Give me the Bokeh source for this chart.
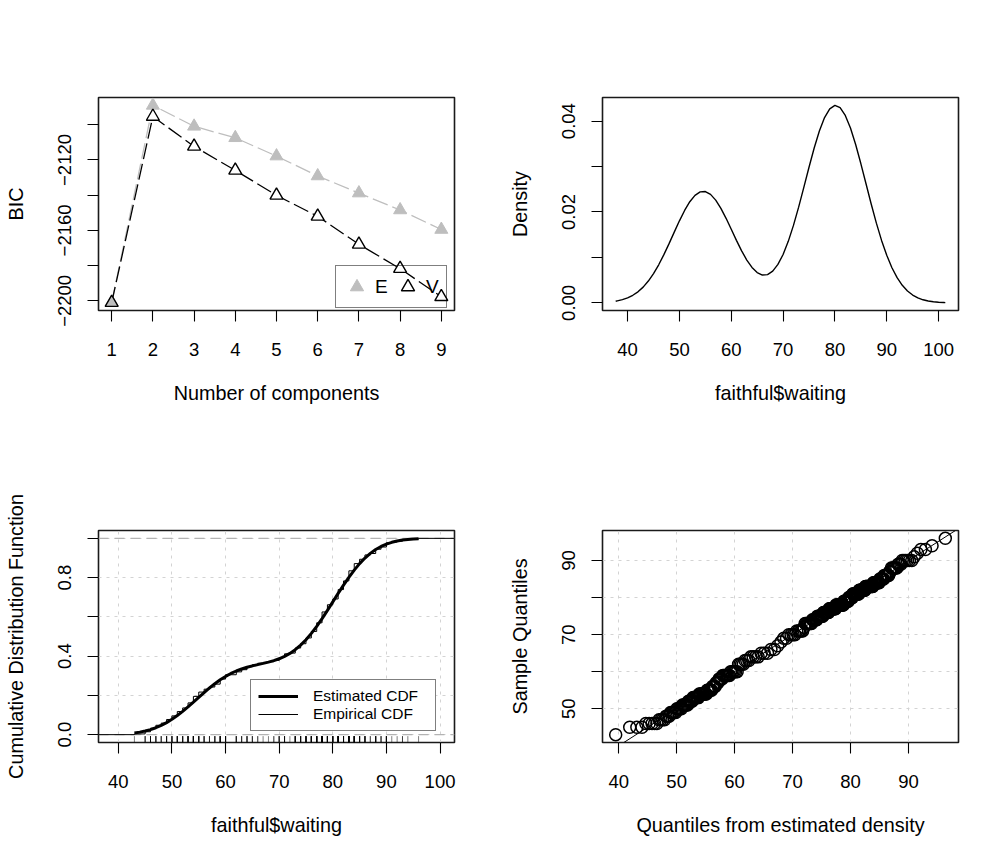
import numpy as np
from bokeh.plotting import figure
from bokeh.models import (FixedTicker, PrintfTickFormatter, Legend, LegendItem,
                          Slope, Span)
from bokeh.layouts import column, row
from bokeh.embed import file_html
from bokeh.resources import INLINE

# ---------------- data ----------------
components = [1, 2, 3, 4, 5, 6, 7, 8, 9]
bic_E = [-2201.0, -2089.0, -2100.9, -2107.4, -2117.8, -2129.1, -2138.8, -2148.4, -2159.5]
bic_V = [-2201.0, -2095.3, -2112.3, -2125.9, -2140.1, -2152.0, -2167.9, -2181.7, -2197.7]
bic_ticks = [-2200, -2160, -2120]
bic_minor_ticks = [-2180, -2140, -2100]

# estimated density of faithful$waiting
dens_x = [37.7] + list(range(38, 102)) + [101.3]
dens_y = [0.00035,
          0.00045, 0.00072, 0.00111, 0.00167, 0.00244, 0.00347, 0.00480, 0.00644,
          0.00838, 0.01061, 0.01304, 0.01557, 0.01806, 0.02034, 0.02226, 0.02366,
          0.02443, 0.02450, 0.02388, 0.02261, 0.02080, 0.01861, 0.01620, 0.01376,
          0.01145, 0.00943, 0.00780, 0.00668, 0.00613, 0.00622, 0.00699, 0.00846,
          0.01065, 0.01354, 0.01705, 0.02107, 0.02541, 0.02985, 0.03408, 0.03782,
          0.04078, 0.04271, 0.04346, 0.04296, 0.04125, 0.03847, 0.03485, 0.03066,
          0.02621, 0.02176, 0.01755, 0.01375, 0.01046, 0.00773, 0.00555, 0.00387,
          0.00262, 0.00173, 0.00110, 0.00068, 0.00041, 0.00024, 0.00014, 0.00008,
          0.00006]

# estimated CDF
cdf_x = list(range(38, 98))
cdf_y = [0.00084, 0.00141, 0.00231, 0.00368, 0.00572, 0.00865, 0.01277, 0.01835,
         0.02574, 0.03519, 0.04704, 0.06130, 0.07812, 0.09736, 0.11870, 0.14169,
         0.16581, 0.19032, 0.21454, 0.23783, 0.25957, 0.27930, 0.29672, 0.31169,
         0.32429, 0.33469, 0.34326, 0.35045, 0.35679, 0.36293, 0.36946, 0.37712,
         0.38663, 0.39861, 0.41391, 0.43290, 0.45617, 0.48379, 0.51583, 0.55174,
         0.59110, 0.63296, 0.67615, 0.71948, 0.76165, 0.80159, 0.83833, 0.87111,
         0.89955, 0.92351, 0.94313, 0.95872, 0.97080, 0.97987, 0.98645, 0.99112,
         0.99431, 0.99649, 0.99783, 0.99873]

# faithful$waiting
waiting = [79, 54, 74, 62, 85, 55, 88, 85, 51, 85, 54, 84, 78, 47, 83, 52, 62, 84, 52, 79,
           51, 47, 78, 69, 74, 83, 55, 76, 78, 79, 73, 77, 66, 80, 74, 52, 48, 80, 59, 90,
           80, 58, 84, 58, 73, 83, 64, 53, 82, 59, 75, 90, 54, 80, 54, 83, 71, 64, 77, 81,
           59, 84, 48, 82, 60, 92, 78, 78, 65, 73, 82, 56, 79, 71, 62, 76, 60, 78, 76, 83,
           75, 82, 70, 65, 73, 88, 76, 80, 48, 86, 60, 90, 50, 78, 63, 72, 84, 75, 51, 82,
           62, 88, 49, 83, 81, 47, 84, 52, 86, 81, 75, 59, 89, 79, 59, 81, 50, 85, 59, 87,
           53, 69, 77, 56, 88, 81, 45, 82, 55, 90, 45, 83, 56, 89, 46, 82, 51, 86, 53, 79,
           81, 60, 82, 77, 76, 59, 80, 49, 96, 53, 77, 77, 65, 81, 71, 70, 81, 93, 53, 89,
           45, 86, 58, 78, 66, 76, 63, 88, 52, 93, 49, 57, 77, 68, 81, 81, 73, 50, 85, 74,
           55, 77, 83, 83, 51, 78, 84, 46, 83, 55, 81, 57, 76, 84, 77, 81, 87, 77, 51, 78,
           60, 82, 91, 53, 78, 46, 77, 84, 49, 83, 71, 80, 49, 75, 64, 76, 53, 94, 55, 76,
           50, 82, 54, 75, 78, 79, 78, 78, 70, 79, 70, 54, 86, 50, 90, 54, 54, 77, 79, 64,
           75, 47, 86, 63, 85, 82, 57, 82, 67, 74, 54, 83, 73, 73, 88, 80, 71, 83, 56, 79,
           78, 84, 58, 83, 43, 60, 75, 81, 46, 90, 46, 74]

# ---------------- style ----------------
FONT = "Liberation Sans"
GRAY = "#bebebe"
GRID = "#d3d3d3"


def rrange(lo, hi):
    d = (hi - lo) * 0.04
    return (lo - d, hi + d)


def make_fig(xr, yr, lb, rb, tb, bb, fh, xlab, ylab):
    p = figure(frame_width=356, frame_height=fh, x_range=xr, y_range=yr,
               min_border_left=lb, min_border_right=rb, min_border_top=tb,
               min_border_bottom=bb, output_backend="svg", toolbar_location=None,
               background_fill_color="white", border_fill_color="white",
               outline_line_color="#1a1a1a", outline_line_width=1.6)
    p.xgrid.visible = False
    p.ygrid.visible = False
    for ax in (p.xaxis[0], p.yaxis[0]):
        ax.axis_line_color = None
        ax.major_tick_out = 11
        ax.major_tick_in = 0
        ax.minor_tick_out = 11
        ax.minor_tick_in = 0
        ax.major_tick_line_color = "black"
        ax.minor_tick_line_color = "black"
        ax.major_tick_line_width = 1.1
        ax.minor_tick_line_width = 1.1
        ax.major_label_text_font = FONT
        ax.major_label_text_font_size = "18.5px"
        ax.major_label_text_color = "black"
        ax.axis_label_text_font = FONT
        ax.axis_label_text_font_size = "19.8px"
        ax.axis_label_text_font_style = "normal"
        ax.axis_label_text_color = "black"
    p.xaxis.major_label_standoff = 21
    p.xaxis.axis_label_standoff = 23
    p.yaxis.major_label_standoff = 16
    p.yaxis.axis_label_standoff = 29
    p.yaxis.major_label_orientation = "vertical"
    p.xaxis.axis_label = xlab
    p.yaxis.axis_label = ylab
    return p


def style_grid(p, xt, yt):
    p.xgrid.visible = True
    p.ygrid.visible = True
    p.xgrid.ticker = FixedTicker(ticks=xt)
    p.ygrid.ticker = FixedTicker(ticks=yt)
    for g in (p.xgrid, p.ygrid):
        g.grid_line_color = GRID
        g.grid_line_dash = "3 5"
        g.grid_line_width = 1


# ---------------- panel 1: BIC ----------------
allb = bic_E + bic_V
p1 = make_fig(rrange(1, 9), rrange(min(allb), max(allb)), 98, 50, 97, 122, 213,
              "Number of components", "BIC")
p1.xaxis.ticker = FixedTicker(ticks=components)
p1.yaxis.ticker = FixedTicker(ticks=bic_ticks, minor_ticks=bic_minor_ticks)

p1.line(components, bic_E, line_color=GRAY, line_width=1.3, line_dash="16 5")
p1.line(components, bic_V, line_color="black", line_width=1.3, line_dash="16 5")
p1.scatter(components, bic_V, marker="triangle", size=13, fill_color="white", line_color=None)
rE = p1.scatter(components, bic_E, marker="triangle", size=13, fill_color=GRAY, line_color=GRAY)
rV = p1.scatter(components, bic_V, marker="triangle", size=13, fill_color=None,
                line_color="black", line_width=1.4)
leg1 = Legend(items=[LegendItem(label="E", renderers=[rE]), LegendItem(label="V", renderers=[rV])],
              orientation="horizontal", location=(237, 2), glyph_width=33, glyph_height=33,
              label_standoff=2, label_width=16, spacing=0, padding=4, margin=0,
              border_line_color="black", border_line_width=1.4, background_fill_alpha=0,
              label_text_font=FONT, label_text_font_size="19px", label_text_color="black")
p1.add_layout(leg1)

# ---------------- panel 2: density ----------------
p2 = make_fig(rrange(min(dens_x), max(dens_x)), rrange(min(dens_y), max(dens_y)),
              98, 46, 97, 122, 213, "faithful$waiting", "Density")
p2.xaxis.ticker = FixedTicker(ticks=[40, 50, 60, 70, 80, 90, 100])
p2.yaxis.ticker = FixedTicker(ticks=[0.0, 0.02, 0.04], minor_ticks=[0.01, 0.03])
p2.yaxis.formatter = PrintfTickFormatter(format="%.2f")
p2.line(dens_x, dens_y, line_color="black", line_width=1.4)

# ---------------- panel 3: CDF ----------------
n = len(waiting)
uniq, counts = np.unique(np.array(waiting), return_counts=True)
ecdf = np.cumsum(counts) / n
dr = max(0.08 * (uniq.max() - uniq.min()), float(np.median(np.diff(uniq))))
xlim3 = (uniq.min() - dr, uniq.max() + dr)
xr3 = rrange(*xlim3)
yr3 = rrange(0, 1)
p3 = make_fig(xr3, yr3, 98, 50, 98, 118, 212, "faithful$waiting",
              "Cumulative Distribution Function")
p3.xaxis.ticker = FixedTicker(ticks=[40, 50, 60, 70, 80, 90, 100])
p3.yaxis.ticker = FixedTicker(ticks=[0.0, 0.4, 0.8], minor_ticks=[0.2, 0.6, 1.0])
p3.yaxis.formatter = PrintfTickFormatter(format="%.1f")
style_grid(p3, [40, 50, 60, 70, 80, 90, 100], [0.0, 0.2, 0.4, 0.6, 0.8, 1.0])
for h in (0, 1):
    p3.add_layout(Span(location=h, dimension="width", line_color="#b3b3b3",
                       line_dash="10 6", line_width=1.3, level="underlay"))
step_x = [xr3[0] - 5] + list(uniq) + [xr3[1] + 5]
step_y = [0.0] + list(ecdf) + [1.0]
rEmp = p3.step(step_x, step_y, mode="after", line_color="black", line_width=1)
sel = [(x, y) for x, y in zip(cdf_x, cdf_y) if uniq.min() <= x <= uniq.max()]
rEst = p3.line([s[0] for s in sel], [s[1] for s in sel], line_color="black", line_width=3)
rug_lo = yr3[0]
rug_hi = yr3[0] + 0.03 * (yr3[1] - yr3[0])
p3.segment(x0=waiting, y0=[rug_lo] * n, x1=waiting, y1=[rug_hi] * n,
           line_color="black", line_alpha=0.5, line_width=1)
leg3 = Legend(items=[LegendItem(label="Estimated CDF", renderers=[rEst]),
                     LegendItem(label="Empirical CDF", renderers=[rEmp])],
              location=(152, 11), glyph_width=40, glyph_height=16, label_height=16,
              label_standoff=15, label_width=115, spacing=0, padding=7, margin=0,
              border_line_color="black", border_line_width=1.4,
              background_fill_color="white", background_fill_alpha=1,
              label_text_font=FONT, label_text_font_size="15.5px", label_text_color="black")
p3.add_layout(leg3)

# ---------------- panel 4: QQ ----------------
pp = (np.arange(1, n + 1) - 0.5) / n
q_theo = np.interp(pp, cdf_y, cdf_x)
q_samp = np.sort(np.array(waiting))
p4 = make_fig(rrange(q_theo.min(), q_theo.max()), rrange(q_samp.min(), q_samp.max()),
              98, 46, 98, 118, 212, "Quantiles from estimated density", "Sample Quantiles")
p4.xaxis.ticker = FixedTicker(ticks=[40, 50, 60, 70, 80, 90])
p4.yaxis.ticker = FixedTicker(ticks=[50, 70, 90], minor_ticks=[60, 80])
style_grid(p4, [40, 50, 60, 70, 80, 90], [50, 60, 70, 80, 90])
p4.add_layout(Slope(gradient=1, y_intercept=0, line_color="black", line_width=1))
p4.scatter(q_theo, q_samp, marker="circle", size=12, fill_color=None,
           line_color="black", line_width=1.5)

layout = column(row(p1, p2), row(p3, p4))
open("out.html", "w").write(file_html(layout, INLINE))
